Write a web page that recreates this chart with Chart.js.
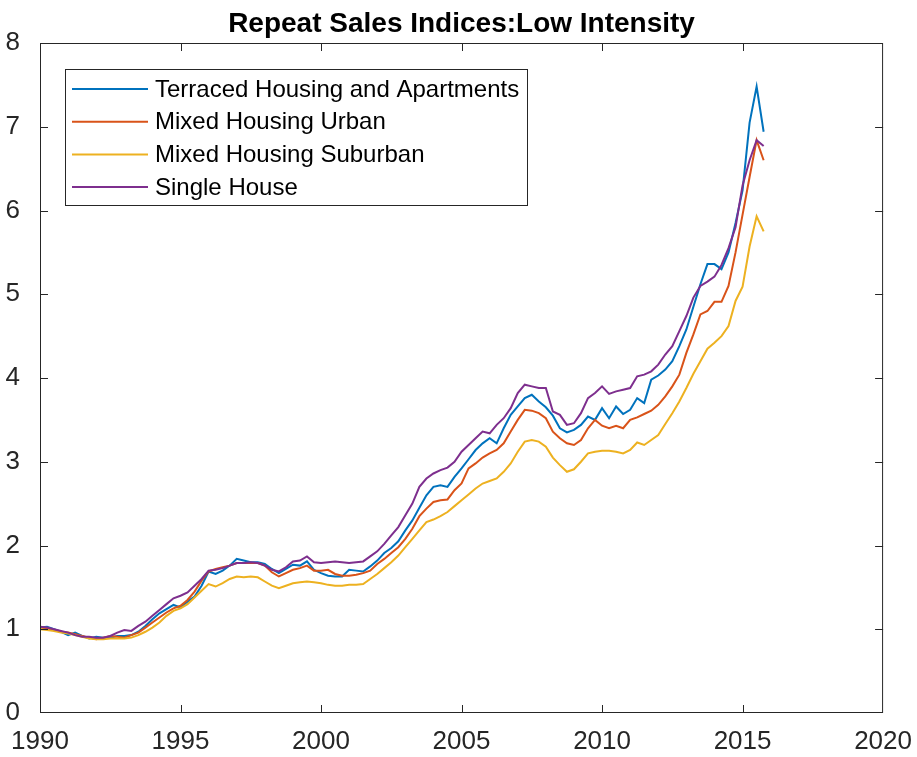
<!DOCTYPE html>
<html>
<head>
<meta charset="utf-8">
<script src="https://cdn.jsdelivr.net/npm/chart.js@4/dist/chart.umd.min.js"></script>
<style>
  html, body { margin: 0; padding: 0; background: #fff; }
  #wrap { width: 917px; height: 757px; }
</style>
</head>
<body>
<div id="wrap"><canvas id="chart"></canvas></div>
<script>
// quarterly index, 1990 Q1 .. 2015 Q4
const startYear = 1990;
const titleText = "Repeat Sales Indices:Low Intensity";
const seriesNames = ["Terraced Housing and Apartments", "Mixed Housing Urban", "Mixed Housing Suburban", "Single House"];
const seriesColors = ["#0072BD", "#D95319", "#EDB120", "#7E2F8E"];
const xTicks = [1990, 1995, 2000, 2005, 2010, 2015, 2020];
const yTicks = [0, 1, 2, 3, 4, 5, 6, 7, 8];

const terraced = [
    1.02, 1.03, 1.00, 0.97,  0.93, 0.96, 0.92, 0.89,  0.91, 0.90, 0.90, 0.92,  0.92, 0.93, 0.97, 1.04,
    1.12, 1.19, 1.24, 1.29,  1.26, 1.33, 1.39, 1.52,  1.69, 1.66, 1.70, 1.76,  1.84, 1.82, 1.80, 1.80,
    1.78, 1.72, 1.67, 1.72,  1.77, 1.76, 1.81, 1.71,  1.67, 1.64, 1.63, 1.63,  1.71, 1.70, 1.69, 1.75,
    1.82, 1.91, 1.97, 2.05,  2.18, 2.30, 2.45, 2.60,  2.70, 2.72, 2.70, 2.82,  2.92, 3.03, 3.14, 3.22,
    3.28, 3.22, 3.40, 3.56,  3.66, 3.76, 3.80, 3.72,  3.65, 3.55, 3.40, 3.35,  3.38, 3.44, 3.54, 3.50,
    3.64, 3.52, 3.66, 3.57,  3.62, 3.76, 3.70, 3.98,  4.03, 4.10, 4.20, 4.38,  4.58, 4.85, 5.12, 5.36,
    5.36, 5.30, 5.50, 5.85,  6.24, 7.05, 7.48, 6.94
];
const mixedUrban = [
    1.02, 1.01, 0.99, 0.97,  0.96, 0.94, 0.92, 0.90,  0.88, 0.90, 0.92, 0.91,  0.90, 0.93, 0.96, 1.02,
    1.08, 1.14, 1.20, 1.25,  1.28, 1.35, 1.45, 1.58,  1.69, 1.72, 1.74, 1.76,  1.79, 1.79, 1.79, 1.79,
    1.76, 1.68, 1.63, 1.67,  1.71, 1.73, 1.76, 1.70,  1.70, 1.71, 1.66, 1.64,  1.64, 1.65, 1.67, 1.70,
    1.78, 1.84, 1.91, 1.98,  2.08, 2.20, 2.35, 2.44,  2.52, 2.54, 2.55, 2.66,  2.74, 2.92, 2.98, 3.05,
    3.10, 3.14, 3.22, 3.36,  3.50, 3.62, 3.61, 3.58,  3.52, 3.36, 3.28, 3.22,  3.20, 3.26, 3.40, 3.50,
    3.43, 3.40, 3.43, 3.40,  3.50, 3.53, 3.57, 3.61,  3.68, 3.78, 3.90, 4.04,  4.30, 4.52, 4.76, 4.80,
    4.91, 4.91, 5.10, 5.50,  5.95, 6.40, 6.84, 6.60
];
const mixedSuburban = [
    1.00, 0.99, 0.98, 0.96,  0.95, 0.93, 0.91, 0.89,  0.88, 0.88, 0.89, 0.89,  0.89, 0.90, 0.93, 0.97,
    1.02, 1.08, 1.16, 1.22,  1.25, 1.30, 1.38, 1.46,  1.54, 1.51, 1.55, 1.60,  1.63, 1.62, 1.63, 1.62,
    1.57, 1.52, 1.49, 1.52,  1.55, 1.56, 1.57, 1.56,  1.55, 1.53, 1.52, 1.52,  1.53, 1.53, 1.54, 1.60,
    1.66, 1.73, 1.80, 1.88,  1.98, 2.08, 2.18, 2.28,  2.31, 2.35, 2.40, 2.47,  2.54, 2.61, 2.68, 2.74,
    2.77, 2.80, 2.88, 2.98,  3.12, 3.24, 3.26, 3.24,  3.18, 3.05, 2.96, 2.88,  2.91, 3.00, 3.10, 3.12,
    3.13, 3.13, 3.12, 3.10,  3.14, 3.23, 3.20, 3.26,  3.32, 3.45, 3.58, 3.72,  3.88, 4.05, 4.20, 4.35,
    4.42, 4.50, 4.62, 4.92,  5.09, 5.57, 5.93, 5.75
];
const singleHouse = [
    1.03, 1.02, 1.00, 0.98,  0.96, 0.93, 0.91, 0.91,  0.90, 0.90, 0.92, 0.96,  0.99, 0.98, 1.04, 1.09,
    1.16, 1.23, 1.30, 1.37,  1.40, 1.44, 1.52, 1.60,  1.70, 1.71, 1.73, 1.76,  1.79, 1.79, 1.80, 1.79,
    1.76, 1.71, 1.69, 1.74,  1.81, 1.82, 1.87, 1.80,  1.79, 1.80, 1.81, 1.80,  1.79, 1.80, 1.81, 1.87,
    1.93, 2.02, 2.12, 2.22,  2.36, 2.50, 2.70, 2.80,  2.86, 2.90, 2.93, 3.00,  3.12, 3.20, 3.28, 3.36,
    3.34, 3.44, 3.52, 3.64,  3.82, 3.92, 3.90, 3.88,  3.88, 3.60, 3.56, 3.44,  3.46, 3.58, 3.76, 3.82,
    3.90, 3.81, 3.84, 3.86,  3.88, 4.02, 4.04, 4.08,  4.16, 4.28, 4.38, 4.56,  4.74, 4.96, 5.10, 5.15,
    5.21, 5.35, 5.55, 5.80,  6.30, 6.60, 6.84, 6.77
];

const allSeries = [terraced, mixedUrban, mixedSuburban, singleHouse];
const axisColor = "#262626";
const fontFamily = "'Liberation Sans', Arial, sans-serif";

function toPoints(values) {
    return values.map((v, i) => ({ x: startYear + i / 4, y: v }));
}

const datasets = allSeries.map((values, idx) => ({
    label: seriesNames[idx],
    data: toPoints(values),
    borderColor: seriesColors[idx],
    backgroundColor: seriesColors[idx],
    borderWidth: 2,
    pointRadius: 0,
    tension: 0,
    fill: false,
    order: allSeries.length - idx   // later series on top, like matlab
}));

// box, inward ticks, title and legend
const matlabFrame = {
    id: "matlabFrame",
    afterDatasetsDraw(chart) {
        const ctx = chart.ctx;
        const area = chart.chartArea;
        const xs = chart.scales.x;
        const ys = chart.scales.y;
        const tl = 8;

        ctx.save();
        ctx.strokeStyle = axisColor;
        ctx.lineWidth = 1;
        ctx.strokeRect(area.left + 0.5, area.top + 0.5, area.right - area.left - 1, area.bottom - area.top - 1);

        // inner ticks only, the box already covers both ends
        ctx.beginPath();
        xTicks.slice(1, -1).forEach(v => {
            const px = Math.round(xs.getPixelForValue(v)) + 0.5;
            ctx.moveTo(px, area.bottom);
            ctx.lineTo(px, area.bottom - tl);
            ctx.moveTo(px, area.top);
            ctx.lineTo(px, area.top + tl);
        });
        yTicks.slice(1, -1).forEach(v => {
            const py = Math.round(ys.getPixelForValue(v)) + 0.5;
            ctx.moveTo(area.left, py);
            ctx.lineTo(area.left + tl, py);
            ctx.moveTo(area.right, py);
            ctx.lineTo(area.right - tl, py);
        });
        ctx.stroke();

        // title
        ctx.fillStyle = "#000";
        ctx.font = "bold 28px " + fontFamily;
        ctx.textAlign = "center";
        ctx.textBaseline = "alphabetic";
        ctx.fillText(titleText, (area.left + area.right) / 2, 32);

        // legend
        const lx = 65, ly = 69, lw = 462, lh = 136;
        ctx.fillStyle = "#fff";
        ctx.fillRect(lx, ly, lw, lh);
        ctx.strokeStyle = axisColor;
        ctx.strokeRect(lx + 0.5, ly + 0.5, lw, lh);
        ctx.font = "24px " + fontFamily;
        ctx.textAlign = "left";
        ctx.textBaseline = "middle";
        chart.data.datasets.forEach((ds, i) => {
            const rowY = 89 + i * 32.7;
            ctx.strokeStyle = ds.borderColor;
            ctx.lineWidth = 2;
            ctx.beginPath();
            ctx.moveTo(72, rowY);
            ctx.lineTo(148, rowY);
            ctx.stroke();
            ctx.fillStyle = "#000";
            ctx.fillText(ds.label, 155, rowY + 1);
        });
        ctx.restore();
    }
};

new Chart(document.getElementById("chart"), {
    type: "line",
    data: { datasets: datasets },
    plugins: [matlabFrame],
    options: {
        responsive: true,
        maintainAspectRatio: false,
        animation: false,
        layout: { padding: { top: 43, right: 31, left: 0, bottom: 0 } },
        plugins: {
            legend: { display: false },
            title: { display: false },
            tooltip: { enabled: false }
        },
        scales: {
            x: {
                type: "linear",
                min: 1990,
                max: 2020,
                afterFit(scale) { scale.height = 44; },
                grid: { display: false },
                border: { display: false },
                ticks: {
                    stepSize: 5,
                    padding: 5,
                    color: axisColor,
                    maxRotation: 0,
                    font: { size: 26, family: fontFamily },
                    callback: v => String(v)
                }
            },
            y: {
                min: 0,
                max: 8,
                afterFit(scale) { scale.width = 40; },
                grid: { display: false },
                border: { display: false },
                ticks: {
                    stepSize: 1,
                    padding: 12,
                    color: axisColor,
                    font: { size: 26, family: fontFamily }
                }
            }
        }
    }
});
</script>
</body>
</html>
